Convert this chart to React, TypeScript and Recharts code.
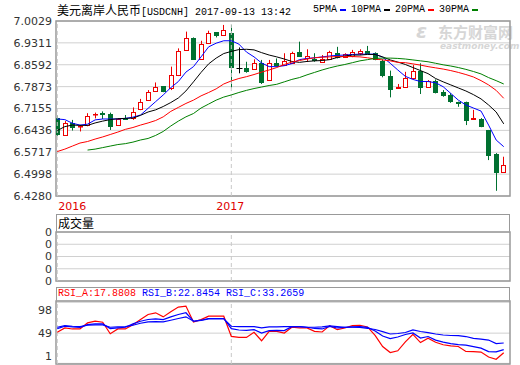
import React from 'react';
import { ComposedChart, Bar, Line, XAxis, YAxis, CartesianGrid, ReferenceLine, ReferenceArea } from 'recharts';

// weekly candles, 2016 -> 2017-09
const open = [6.683, 6.630, 6.667, 6.657, 6.660, 6.696, 6.701, 6.698, 6.660, 6.685,
  6.683, 6.713, 6.743, 6.774, 6.789, 6.782, 6.826, 6.908, 6.946, 6.877,
  6.932, 6.966, 6.957, 6.964, 6.847, 6.847, 6.844, 6.864, 6.809, 6.866,
  6.858, 6.866, 6.900, 6.882, 6.878, 6.869, 6.877, 6.897, 6.886, 6.888,
  6.899, 6.904, 6.897, 6.872, 6.822, 6.782, 6.787, 6.815, 6.839, 6.785,
  6.807, 6.771, 6.760, 6.738, 6.738, 6.680, 6.681, 6.645, 6.566, 6.508];
const high = [6.693, 6.674, 6.678, 6.661, 6.700, 6.702, 6.706, 6.702, 6.683, 6.694,
  6.719, 6.747, 6.776, 6.801, 6.789, 6.853, 6.913, 6.968, 6.949, 6.938,
  6.971, 6.966, 6.990, 6.990, 6.916, 6.869, 6.877, 6.875, 6.875, 6.880,
  6.897, 6.902, 6.935, 6.910, 6.897, 6.891, 6.905, 6.918, 6.897, 6.908,
  6.910, 6.921, 6.900, 6.877, 6.840, 6.796, 6.836, 6.858, 6.864, 6.809,
  6.811, 6.776, 6.766, 6.738, 6.738, 6.711, 6.684, 6.645, 6.569, 6.557];
const low = [6.626, 6.628, 6.643, 6.640, 6.657, 6.683, 6.681, 6.645, 6.660, 6.678,
  6.678, 6.710, 6.741, 6.774, 6.769, 6.776, 6.822, 6.905, 6.875, 6.877,
  6.932, 6.949, 6.957, 6.782, 6.831, 6.833, 6.844, 6.796, 6.809, 6.853,
  6.858, 6.866, 6.886, 6.869, 6.869, 6.869, 6.877, 6.880, 6.886, 6.884,
  6.891, 6.897, 6.874, 6.818, 6.752, 6.782, 6.787, 6.815, 6.763, 6.785,
  6.765, 6.754, 6.734, 6.721, 6.661, 6.679, 6.654, 6.546, 6.445, 6.508];
const close = [6.632, 6.667, 6.656, 6.658, 6.692, 6.699, 6.699, 6.658, 6.680, 6.680,
  6.705, 6.738, 6.771, 6.785, 6.774, 6.825, 6.905, 6.946, 6.877, 6.927,
  6.962, 6.958, 6.973, 6.853, 6.847, 6.840, 6.866, 6.803, 6.864, 6.857,
  6.872, 6.897, 6.889, 6.888, 6.876, 6.877, 6.900, 6.884, 6.894, 6.900,
  6.904, 6.897, 6.877, 6.826, 6.778, 6.787, 6.815, 6.839, 6.785, 6.807,
  6.771, 6.760, 6.741, 6.735, 6.678, 6.683, 6.658, 6.563, 6.508, 6.530];

const ma5 = [6.681, 6.679, 6.667, 6.661, 6.664, 6.678, 6.681, 6.681, 6.681, 6.683,
  6.687, 6.694, 6.716, 6.738, 6.760, 6.784, 6.804, 6.835, 6.853, 6.885,
  6.918, 6.930, 6.938, 6.938, 6.927, 6.901, 6.885, 6.865, 6.853, 6.853,
  6.856, 6.863, 6.876, 6.880, 6.882, 6.885, 6.888, 6.890, 6.891, 6.893,
  6.894, 6.894, 6.894, 6.884, 6.864, 6.842, 6.821, 6.811, 6.804, 6.804,
  6.800, 6.787, 6.765, 6.743, 6.727, 6.717, 6.707, 6.661, 6.612, 6.590];
const ma10 = [6.643, 6.656, 6.661, 6.660, 6.660, 6.668, 6.674, 6.679, 6.682, 6.683,
  6.684, 6.693, 6.704, 6.711, 6.722, 6.735, 6.750, 6.773, 6.803, 6.834,
  6.862, 6.881, 6.896, 6.903, 6.909, 6.910, 6.908, 6.899, 6.891, 6.885,
  6.878, 6.870, 6.867, 6.870, 6.872, 6.873, 6.876, 6.883, 6.888, 6.891,
  6.891, 6.893, 6.893, 6.885, 6.875, 6.868, 6.860, 6.850, 6.840, 6.830,
  6.814, 6.803, 6.793, 6.783, 6.773, 6.761, 6.747, 6.727, 6.704, 6.665];
const ma20 = [6.574, 6.582, 6.592, 6.602, 6.607, 6.615, 6.622, 6.630, 6.638, 6.647,
  6.653, 6.661, 6.668, 6.676, 6.688, 6.706, 6.719, 6.732, 6.743, 6.757,
  6.768, 6.780, 6.796, 6.806, 6.814, 6.820, 6.827, 6.835, 6.842, 6.850,
  6.860, 6.868, 6.873, 6.878, 6.882, 6.884, 6.885, 6.886, 6.886, 6.886,
  6.885, 6.882, 6.878, 6.875, 6.872, 6.867, 6.866, 6.862, 6.858, 6.853,
  6.849, 6.845, 6.840, 6.834, 6.827, 6.819, 6.807, 6.793, 6.775, 6.749];
const ma30 = [null, null, null, null, 6.579, 6.582, 6.587, 6.592, 6.597, 6.600,
  6.605, 6.612, 6.617, 6.627, 6.640, 6.658, 6.674, 6.688, 6.699, 6.717,
  6.730, 6.743, 6.753, 6.760, 6.768, 6.775, 6.781, 6.786, 6.791, 6.795,
  6.803, 6.811, 6.817, 6.826, 6.834, 6.842, 6.849, 6.855, 6.860, 6.866,
  6.872, 6.876, 6.880, 6.881, 6.881, 6.880, 6.878, 6.875, 6.872, 6.869,
  6.864, 6.859, 6.855, 6.850, 6.844, 6.837, 6.829, 6.817, 6.807, 6.796];

const volume = [0, 0, 0, 0, 0, 0, 0, 0, 0, 0, 0, 0, 0, 0, 0, 0, 0, 0, 0, 0,
  0, 0, 0, 0, 0, 0, 0, 0, 0, 0, 0, 0, 0, 0, 0, 0, 0, 0, 0, 0,
  0, 0, 0, 0, 0, 0, 0, 0, 0, 0, 0, 0, 0, 0, 0, 0, 0, 0, 0, 0];

const rsiA = [50.3, 57.2, 55.6, 55.6, 65.2, 67.9, 66.3, 48.0, 55.6, 55.6,
  62.5, 70.5, 78.6, 81.2, 74.8, 82.8, 90.3, 91.9, 66.8, 70.5,
  75.9, 75.9, 75.9, 43.8, 42.2, 42.2, 50.3, 36.9, 51.9, 51.9,
  49.2, 58.3, 57.2, 57.2, 51.9, 50.8, 60.9, 54.5, 57.2, 60.9,
  61.5, 58.8, 45.4, 27.8, 18.2, 21.0, 35.0, 47.0, 34.0, 41.0,
  34.5, 30.5, 28.9, 27.8, 19.8, 19.5, 19.0, 11.0, 7.5, 17.9];
const rsiB = [56.2, 59.9, 58.8, 58.3, 62.6, 63.6, 63.6, 56.2, 57.2, 58.3,
  63.6, 67.9, 70.6, 71.7, 70.6, 74.9, 78.6, 81.3, 67.9, 69.5,
  72.2, 72.2, 72.2, 56.2, 54.0, 53.5, 54.6, 49.2, 53.0, 53.5,
  53.0, 59.3, 59.3, 58.3, 56.4, 55.6, 59.6, 57.2, 58.0, 58.8,
  59.3, 58.0, 52.4, 44.4, 40.4, 42.8, 46.8, 49.2, 41.2, 43.6,
  38.0, 34.8, 32.4, 30.8, 30.0, 27.6, 25.2, 19.6, 19.2, 22.8];
const rsiC = [58.3, 61.0, 59.9, 59.4, 61.5, 62.1, 62.1, 58.3, 58.8, 59.4,
  61.5, 64.7, 66.9, 67.4, 66.9, 69.5, 72.2, 74.9, 67.9, 69.0,
  71.7, 71.7, 71.7, 59.9, 59.4, 59.4, 59.4, 57.2, 58.8, 58.8,
  59.3, 59.3, 59.3, 58.3, 58.3, 58.8, 60.4, 59.3, 58.3, 58.3,
  58.0, 56.7, 54.8, 51.3, 47.6, 48.4, 50.0, 54.0, 51.6, 49.7,
  47.6, 46.0, 45.2, 44.9, 43.6, 40.7, 39.6, 38.0, 32.4, 33.3];

const priceTicks = [7.0029, 6.9311, 6.8592, 6.7873, 6.7155, 6.6436, 6.5717, 6.4998, 6.4280];
const yearTicks = [0, 23];
const yearLabels = ['2016', '2017'];
const volumeTicks = [0, 1, 2, 3, 4];
const volumeTickLabels = ['0', '0', '0', '0', '0'];
const rsiTicks = [98, 49, 1];

const maSeries = [
  { key: 'ma5', name: '5PMA', color: '#0000ff' },
  { key: 'ma10', name: '10PMA', color: '#000000' },
  { key: 'ma20', name: '20PMA', color: '#ff0000' },
  { key: 'ma30', name: '30PMA', color: '#008000' },
];
const rsiSeries = [
  { key: 'rsiA', name: 'RSI_A', last: '17.8808', color: '#ff0000' },
  { key: 'rsiB', name: 'RSI_B', last: '22.8454', color: '#0000ff' },
  { key: 'rsiC', name: 'RSI_C', last: '33.2659', color: '#0000ff' },
];

const rows = open.map((o, i) => ({
  idx: i, open: o, high: high[i], low: low[i], close: close[i],
  ma5: ma5[i], ma10: ma10[i], ma20: ma20[i], ma30: ma30[i],
  volume: volume[i], rsiA: rsiA[i], rsiB: rsiB[i], rsiC: rsiC[i],
}));

const X_DOMAIN: [number, number] = [-0.17, 59.83];
const PRICE_DOMAIN: [number, number] = [6.428, 7.0029];
const UP = '#ee0000';
const DOWN = '#007030';
const GRID = '#d0d0d0';
const FRAME = '#999999';
const MONO = "'Liberation Mono', 'DejaVu Sans Mono', monospace";
const CJK = "'Noto Sans CJK SC', sans-serif";
const SANS = "'DejaVu Sans', sans-serif";

const Candle = (props: any) => {
  const { x, y, width, height, payload } = props;
  const { open: o, close: c, high: h, low: l } = payload;
  const top = Math.min(y, y + height);
  const span = Math.abs(height);
  const toY = (v: number) => top + ((h - v) / (h - l)) * span;
  const cx = Math.round(x + width / 2) + 0.5;
  const yHigh = toY(h);
  const yLow = toY(l);
  const bTop = Math.round(toY(Math.max(o, c))) + 0.5;
  const bBot = Math.round(toY(Math.min(o, c))) + 0.5;
  if (c === o) {
    return (
      <g stroke="#000" strokeWidth={1}>
        <line x1={cx} x2={cx} y1={yHigh} y2={yLow} />
        <line x1={cx - 3} x2={cx + 3} y1={bTop} y2={bTop} />
      </g>
    );
  }
  if (c > o) {
    return (
      <g stroke={UP} strokeWidth={1}>
        <line x1={cx} x2={cx} y1={yHigh} y2={bTop} />
        <line x1={cx} x2={cx} y1={bBot} y2={yLow} />
        <rect x={cx - 2} y={bTop} width={4} height={Math.max(bBot - bTop, 0.5)} fill="#fff" />
      </g>
    );
  }
  return (
    <g>
      <line x1={cx} x2={cx} y1={yHigh} y2={yLow} stroke={DOWN} strokeWidth={1} />
      <rect x={cx - 2.5} y={bTop - 0.5} width={5} height={Math.max(bBot - bTop + 1, 1)} fill={DOWN} />
    </g>
  );
};

const YearTick = (props: any) => {
  const { x, y, payload, index } = props;
  const label = yearLabels[yearTicks.indexOf(payload.value)];
  return (
    <text x={index === 0 ? x + 1 : x - 1} y={y + 6} textAnchor={index === 0 ? 'start' : 'middle'}
      fill="#e00000" fontSize={11} fontFamily={SANS}>{label}</text>
  );
};

// keeps the rsi labels inside the panel, like the original terminal does
const RsiTick = (props: any) => {
  const { x, y, payload } = props;
  const ty = Math.min(Math.max(y, 14 + 9.4), 77 - 8);
  return (
    <text x={x} y={ty} dy="0.35em" textAnchor="end" fill="#333" fontSize={11} fontFamily={SANS}>{payload.value}</text>
  );
};

const frame = (y1: number, y2: number) => (
  <ReferenceArea x1={X_DOMAIN[0]} x2={X_DOMAIN[1]} y1={y1} y2={y2} fill="none" fillOpacity={0}
    stroke={FRAME} strokeWidth={1.5} ifOverflow="visible" />
);

const yearLines = () => yearTicks.map((t) => (
  <ReferenceLine key={t} x={t} stroke="#c8c8c8" strokeDasharray="4 3" />
));

const App = () => {
  return (
    <div style={{ position: 'absolute', left: 0, top: 0, width: 520, height: 365, background: '#fff', overflow: 'hidden', fontFamily: SANS }}>
      {/* watermark */}
      <div style={{ position: 'absolute', left: 416, top: 21, color: '#d6d6d6', lineHeight: 1 }}>
        <div style={{ display: 'flex', alignItems: 'center' }}>
          <span style={{ fontSize: 20, fontWeight: 'bold', fontStyle: 'italic', fontFamily: SANS, width: 22 }}>ε</span>
          <span style={{ fontSize: 15, fontWeight: 'bold', fontFamily: CJK }}>东方财富网</span>
        </div>
        <div style={{ fontSize: 9, fontWeight: 'bold', fontStyle: 'italic', fontFamily: SANS, marginLeft: 24, marginTop: 1 }}>eastmoney.com</div>
      </div>

      {/* title + legend */}
      <div style={{ position: 'absolute', left: 57, top: 2, whiteSpace: 'nowrap', lineHeight: '16px', color: '#000' }}>
        <span style={{ fontFamily: CJK, fontSize: 12 }}>美元离岸人民币</span>
        <span style={{ fontFamily: MONO, fontSize: 10 }}>[USDCNH] 2017-09-13 13:42</span>
      </div>
      <div style={{ position: 'absolute', left: 313, top: 2, display: 'flex', alignItems: 'center', lineHeight: '16px', whiteSpace: 'nowrap' }}>
        {maSeries.map((s) => (
          <span key={s.key} style={{ display: 'flex', alignItems: 'center', fontFamily: MONO, fontSize: 10, color: '#000' }}>
            {s.name}
            <span style={{ display: 'inline-block', width: 6, height: 2, background: s.color, marginLeft: 3, marginRight: 5 }} />
          </span>
        ))}
      </div>

      {/* price panel */}
      <div style={{ position: 'absolute', left: 0, top: 0 }}>
        <ComposedChart width={520} height={215} data={rows} margin={{ top: 21, right: 10, bottom: 0, left: 0 }}>
          <CartesianGrid vertical={false} stroke={GRID} />
          <XAxis dataKey="idx" type="number" domain={X_DOMAIN} ticks={yearTicks} interval={0} allowDataOverflow
            axisLine={false} tickLine={false} height={19} tick={<YearTick />} />
          <YAxis domain={PRICE_DOMAIN} ticks={priceTicks} interval={0} allowDataOverflow width={56}
            axisLine={false} tickLine={false} tickSize={2} tickMargin={2}
            tick={{ fontSize: 11, fill: '#333', fontFamily: SANS }} tickFormatter={(v: number) => v.toFixed(4)} />
          {yearLines()}
          <Bar dataKey={(d: any) => [d.low, d.high]} barSize={5} shape={<Candle />} isAnimationActive={false} />
          {maSeries.map((s) => (
            <Line key={s.key} type="linear" dataKey={s.key} stroke={s.color} strokeWidth={1} dot={false}
              activeDot={false} isAnimationActive={false} />
          ))}
          {frame(PRICE_DOMAIN[0], PRICE_DOMAIN[1])}
        </ComposedChart>
      </div>

      {/* volume panel */}
      <div style={{ position: 'absolute', left: 56, top: 214, width: 454, height: 18, boxSizing: 'border-box',
        borderTop: `1.5px solid ${FRAME}`, borderLeft: `1.5px solid ${FRAME}`, borderRight: `1.5px solid ${FRAME}`,
        fontFamily: CJK, fontSize: 12, lineHeight: '16px', paddingLeft: 1, color: '#000' }}>成交量</div>
      <div style={{ position: 'absolute', left: 0, top: 214 }}>
        <ComposedChart width={520} height={78} data={rows} margin={{ top: 18, right: 10, bottom: 11, left: 0 }}>
          <CartesianGrid vertical={false} stroke={GRID} />
          <XAxis dataKey="idx" type="number" domain={X_DOMAIN} allowDataOverflow hide />
          <YAxis domain={[0, 4]} ticks={volumeTicks} interval={0} allowDataOverflow width={56}
            axisLine={false} tickLine={false} tickSize={2} tickMargin={2}
            tick={{ fontSize: 11, fill: '#333', fontFamily: SANS }}
            tickFormatter={(_v: number, i: number) => volumeTickLabels[i]} />
          {yearLines()}
          <Bar dataKey="volume" barSize={5} fill={DOWN} isAnimationActive={false} />
          {frame(0, 4)}
        </ComposedChart>
      </div>

      {/* rsi panel */}
      <div style={{ position: 'absolute', left: 56, top: 287, width: 454, height: 14, boxSizing: 'border-box', background: '#fff',
        borderTop: `1.5px solid ${FRAME}`, borderLeft: `1.5px solid ${FRAME}`, borderRight: `1.5px solid ${FRAME}`,
        fontFamily: MONO, fontSize: 10, lineHeight: '12px', paddingLeft: 1, whiteSpace: 'nowrap' }}>
        {rsiSeries.map((s) => (
          <span key={s.key} style={{ color: s.color, marginRight: 6 }}>{s.name}:{s.last}</span>
        ))}
      </div>
      <div style={{ position: 'absolute', left: 0, top: 287 }}>
        <ComposedChart width={520} height={78} data={rows} margin={{ top: 14, right: 10, bottom: 1, left: 0 }}>
          <CartesianGrid vertical={false} stroke={GRID} />
          <XAxis dataKey="idx" type="number" domain={X_DOMAIN} allowDataOverflow hide />
          <YAxis domain={[0, 100]} ticks={rsiTicks} interval={0} allowDataOverflow width={56}
            axisLine={false} tickLine={false} tickSize={2} tickMargin={2} tick={<RsiTick />} />
          {yearLines()}
          {rsiSeries.map((s) => (
            <Line key={s.key} type="linear" dataKey={s.key} stroke={s.color} strokeWidth={1.2} dot={false}
              activeDot={false} isAnimationActive={false} />
          ))}
          {frame(0, 100)}
        </ComposedChart>
      </div>
    </div>
  );
};

export default App;
